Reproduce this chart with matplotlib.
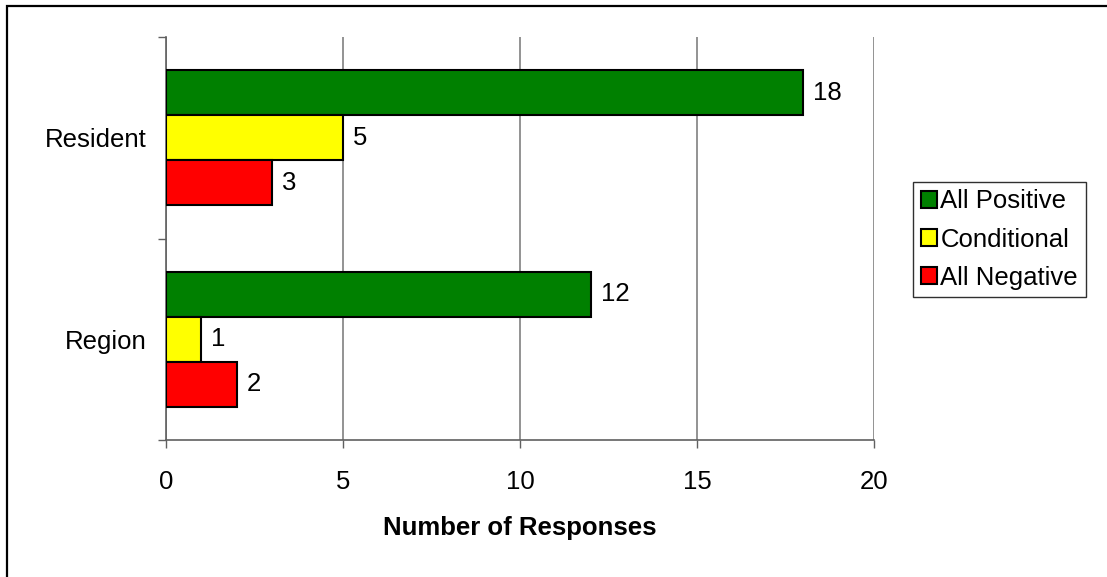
import numpy as np
import matplotlib.pyplot as plt
from matplotlib.patches import Rectangle

plt.rcParams['font.family'] = ['Liberation Sans', 'DejaVu Sans']

categories = ['Region', 'Resident']
series = ['All Positive', 'Conditional', 'All Negative']
colors = ['#008000', '#FFFF00', '#FF0000']
values = {
    'All Positive': [12, 18],
    'Conditional': [1, 5],
    'All Negative': [2, 3],
}
x_ticks = [0, 5, 10, 15, 20]

FS = 18.5
BAR_H = 0.223

fig = plt.figure(figsize=(11.07, 5.77), dpi=100)
ax = fig.add_axes([166 / 1107, 1 - 440 / 577, (874 - 166) / 1107, (440 - 37) / 577])

y = np.arange(len(categories)) + 0.5
offsets = [BAR_H, 0, -BAR_H]
for name, col, off in zip(series, colors, offsets):
    bars = ax.barh(y + off, values[name], height=BAR_H, color=col,
                   edgecolor='black', linewidth=1.5, label=name, zorder=3)
    ax.bar_label(bars, padding=7, fontsize=FS)

ax.set_xlim(0, 20)
ax.set_ylim(0, 2)
ax.set_xticks(x_ticks)
ax.set_yticks(y)
ax.set_yticklabels(categories)
ax.set_yticks([0, 1, 2], minor=True)
ax.tick_params(axis='y', which='major', length=0, pad=14, labelsize=FS)
ax.tick_params(axis='y', which='minor', length=6, width=1, color='#606060')
ax.tick_params(axis='x', length=6, width=1, color='#606060', pad=15.5, labelsize=FS)

ax.grid(axis='x', color='#808080', linewidth=1.2, zorder=0)
for s in ['top', 'right']:
    ax.spines[s].set_visible(False)
for s in ['left', 'bottom']:
    ax.spines[s].set_color('#606060')
    ax.spines[s].set_linewidth(1.2)

ax.set_xlabel('Number of Responses', fontsize=FS, fontweight='bold', labelpad=16)

leg = fig.legend(loc='center left', bbox_to_anchor=(913 / 1107, 1 - 239.5 / 577),
                 fontsize=FS, frameon=True, fancybox=False, framealpha=1,
                 handlelength=0.62, handleheight=0.62, handletextpad=0.15,
                 labelspacing=0.55, borderpad=0.3, borderaxespad=0)
leg.get_frame().set_edgecolor('#303030')
leg.get_frame().set_linewidth(1)

# outer chart border
fig.patches.append(Rectangle((6.5 / 1107, -0.1), 1.2, 1.1 - 5.5 / 577,
                             transform=fig.transFigure, fill=False,
                             edgecolor='black', linewidth=1.6))

fig.savefig('out.png', dpi=100)
